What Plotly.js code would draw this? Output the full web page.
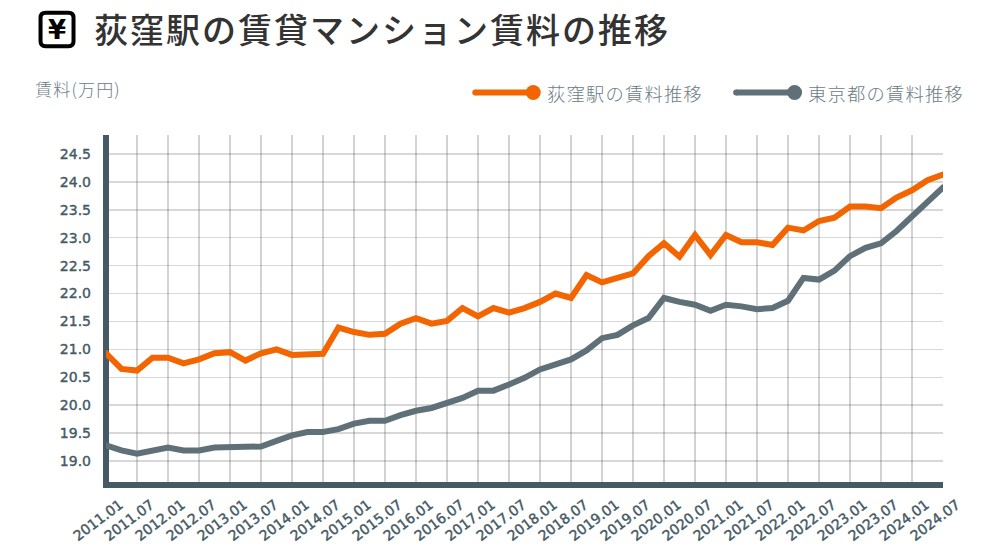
<!DOCTYPE html>
<html><head><meta charset="utf-8">
<script src="https://cdn.plot.ly/plotly-3.0.1.min.js"></script>
<style>html,body{margin:0;padding:0;background:#fff}#c{width:985px;height:554px}
.annotation-text{letter-spacing:1.2px}
.gtitle{letter-spacing:2px}
.js-line{stroke-linecap:round}
.xtick text,.ytick text{stroke:#455a64;stroke-width:0.4px}
</style>
</head><body><div id="c"></div>
<script>
const periods = [];
for (let y = 2011; y <= 2024; y++) for (const m of ['01','04','07','10']) { if (y === 2024 && m === '10') continue; periods.push(y + '.' + m); }
const ogikubo = [20.93,20.65,20.62,20.85,20.85,20.75,20.82,20.93,20.95,20.80,20.93,21.00,20.90,20.90,20.92,21.39,21.31,21.26,21.28,21.46,21.56,21.46,21.51,21.74,21.59,21.74,21.66,21.74,21.85,22.00,21.92,22.33,22.20,22.28,22.36,22.67,22.90,22.66,23.05,22.69,23.05,22.92,22.92,22.87,23.18,23.13,23.30,23.36,23.56,23.56,23.53,23.72,23.85,24.03,24.13];
const tokyo = [19.28,19.19,19.13,19.19,19.24,19.19,19.19,19.24,19.24,19.26,19.26,19.36,19.46,19.52,19.52,19.57,19.67,19.72,19.72,19.82,19.90,19.95,20.03,20.13,20.26,20.26,20.37,20.49,20.64,20.74,20.82,20.98,21.20,21.26,21.43,21.56,21.92,21.85,21.80,21.69,21.80,21.77,21.72,21.74,21.87,22.28,22.25,22.41,22.67,22.82,22.90,23.12,23.38,23.62,23.90];
const tickLabels = periods.filter(p => p.endsWith('.01') || p.endsWith('.07'));
const tickPositions = tickLabels.map(p => periods.indexOf(p));
const seriesNames = ['荻窪駅の賃料推移','東京都の賃料推移'];
const colors = ['#f26500','#607078'];
const W = 985, H = 554, L = 105.5, R = 943, T = 135, B = 485.5;
const px = v => (v - L) / (R - L), py = v => (B - v) / (B - T);
const CJK = '"Noto Sans CJK JP","Noto Sans",sans-serif';
const AX = '#455a64';
const lineTrace = (y, name, color) => ({
  x: periods.map((_, i) => i), y, name, mode: 'lines', type: 'scatter',
  line: {color, width: 6, shape: 'linear'}, cliponaxis: false, hoverinfo: 'x+y'
});
const legendShape = (x0, x1, yy, color) => ([
  {type:'line', xref:'paper', yref:'paper', x0:px(x0), x1:px(x1), y0:py(yy), y1:py(yy), line:{color, width:6}},
  {type:'circle', xref:'paper', yref:'paper', x0:px(x0-3), x1:px(x0+3), y0:py(yy+3), y1:py(yy-3), fillcolor:color, line:{width:0}},
  {type:'circle', xref:'paper', yref:'paper', x0:px(x1-7.5), x1:px(x1+7.5), y0:py(yy+7.5), y1:py(yy-7.5), fillcolor:color, line:{width:0}}
]);
const label = (text, x, y, size, color, weight) => ({
  text, xref:'paper', yref:'paper', x:px(x), y:py(y), xanchor:'left', yanchor:'middle', showarrow:false,
  font:{family:CJK, size, color, weight: weight || 300}
});
const roundedBox = (x0, y0, x1, y1, r) => {
  const X0 = px(x0), X1 = px(x1), Y0 = py(y0), Y1 = py(y1), rx = r / (R - L), ry = r / (B - T);
  return `M ${X0+rx} ${Y0} L ${X1-rx} ${Y0} Q ${X1} ${Y0} ${X1} ${Y0-ry} L ${X1} ${Y1+ry} Q ${X1} ${Y1} ${X1-rx} ${Y1} L ${X0+rx} ${Y1} Q ${X0} ${Y1} ${X0} ${Y1+ry} L ${X0} ${Y0-ry} Q ${X0} ${Y0} ${X0+rx} ${Y0} Z`;
};
Plotly.newPlot('c', [lineTrace(ogikubo, seriesNames[0], colors[0]), lineTrace(tokyo, seriesNames[1], colors[1])], {
  width: W, height: H, showlegend: false,
  paper_bgcolor:'#fff', plot_bgcolor:'#fff',
  margin:{l:L, r:W-R, t:T, b:H-B, pad:0},
  title:{text:'荻窪駅の賃貸マンション賃料の推移', x:94/W, xanchor:'left', xref:'container', y:1-31/H, yanchor:'middle', yref:'container',
    font:{family:CJK, size:34, color:'#333333', weight:500}},
  xaxis:{type:'linear', range:[0,54], tickmode:'array', tickvals:tickPositions, ticktext:tickLabels,
    tickangle:-37, ticks:'', showline:false, zeroline:false, showgrid:true,
    gridcolor:'rgba(90,90,90,0.27)', gridwidth:1.5, ticklabelstandoff:8, ticklabelshift:14,
    tickfont:{family:'"DejaVu Sans",sans-serif', size:14, color:AX}},
  yaxis:{range:[18.57,24.84], tick0:19, dtick:0.5, tickformat:'.1f', ticks:'', showline:false, zeroline:false, showgrid:true,
    gridcolor:'rgba(90,90,90,0.24)', gridwidth:1.5, ticklabelstandoff:14,
    tickfont:{family:'"DejaVu Sans",sans-serif', size:14, color:AX}},
  shapes:[
    {type:'line', layer:'between', xref:'paper', yref:'paper', x0:px(L), x1:px(L), y0:py(135), y1:py(B+3), line:{color:AX, width:6}},
    {type:'line', layer:'between', xref:'paper', yref:'paper', x0:px(L-3), x1:px(R), y0:py(B), y1:py(B), line:{color:AX, width:6}},
    ...legendShape(475, 533, 92.5, colors[0]),
    ...legendShape(736, 794.5, 92.5, colors[1]),
    {type:'path', xref:'paper', yref:'paper', path:roundedBox(40, 12.7, 73, 46, 5), line:{color:'#000', width:4}, fillcolor:'#fff'}
  ],
  annotations:[
    label('賃料(万円)', 32, 88, 17, '#6b7c85'),
    label(seriesNames[0], 545, 92.5, 18.3, '#6b7c85'),
    label(seriesNames[1], 806, 92.5, 18.3, '#6b7c85'),
    {text:'¥', xref:'paper', yref:'paper', x:px(56.5), y:py(29.5), xanchor:'center', yanchor:'middle', showarrow:false,
     font:{family:'"DejaVu Sans",sans-serif', size:26, color:'#000', weight:700}}
  ]
}, {displayModeBar:false, staticPlot:true});
</script></body></html>
